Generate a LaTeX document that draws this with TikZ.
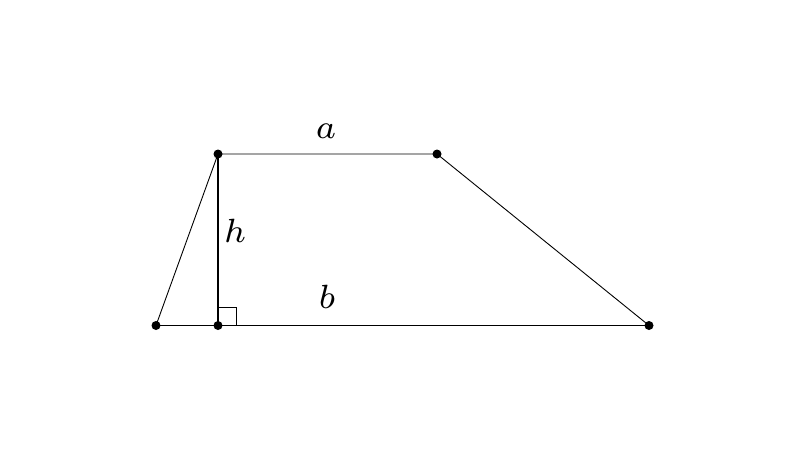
\documentclass[tikz,border=0pt]{standalone}
\usepackage{graphicx}
\newcommand{\biglbl}[1]{\scalebox{4.8}{$\scriptstyle #1$}}
\begin{document}
\begin{tikzpicture}[x=1pt,y=-1pt,
  thinedge/.style={line width=0.9pt},
  heightline/.style={line width=2pt},
  vtx/.style={circle,fill=black,inner sep=0pt,minimum size=9pt},
  lbl/.style={inner sep=0pt}]
\useasboundingbox (0,0) rectangle (800,450);
\node[vtx] (A) at (156,325.5) {};
\node[vtx] (H) at (218,325.5) {};
\node[vtx] (B) at (649,325.5) {};
\node[vtx] (D) at (218,154) {};
\node[vtx] (C) at (437,154) {};
\draw[thinedge] (A.center) -- (B.center) -- (C.center) -- (D.center) -- cycle;
\draw[heightline] (D.center) -- (H.center);
\coordinate (S1) at (236,325.5);
\coordinate (S2) at (236,307);
\coordinate (S3) at (218,307);
\draw[thinedge] (S1) -- (S2) -- (S3);
\node[lbl] (la) at (326,131) {\biglbl{a}};
\node[lbl] (lh) at (235,231) {\biglbl{h}};
\node[lbl] (lb) at (327,297) {\biglbl{b}};
\end{tikzpicture}
\end{document}
